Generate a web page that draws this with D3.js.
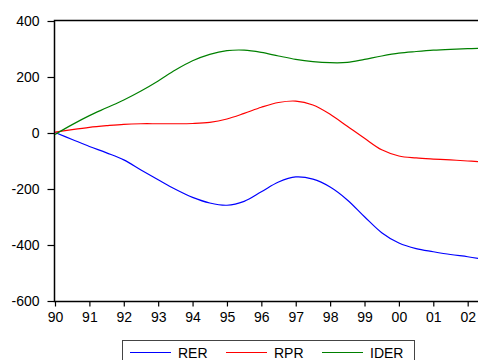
<!DOCTYPE html>
<html>
<head>
<meta charset="utf-8">
<script src="https://cdn.jsdelivr.net/npm/d3@7"></script>
<style>
  html, body { margin: 0; padding: 0; background: #fff; }
  svg { display: block; font-family: "Liberation Sans", Arial, sans-serif; }
</style>
</head>
<body>
<div id="chart"></div>
<script>
// half-year sample points, last one is where the picture is cut off
const periods = [1990, 1990.5, 1991, 1991.5, 1992, 1992.5, 1993, 1993.5, 1994, 1994.5,
  1995, 1995.5, 1996, 1996.5, 1997, 1997.5, 1998, 1998.5, 1999, 1999.5,
  2000, 2000.5, 2001, 2001.5, 2002, 2002.3];

const rer = [2, -23, -48, -71, -96, -132, -167, -201, -230, -250,
  -258, -244, -210, -175, -157, -165, -193, -239, -299, -356,
  -393, -413, -424, -434, -442, -448];
const rpr = [3, 12, 20, 26, 31, 33, 33, 33, 34, 38,
  50, 70, 92, 109, 114, 100, 67, 24, -19, -60,
  -82, -89, -93, -96, -100, -102];
const ider = [-5, 30, 62, 90, 118, 150, 186, 225, 258, 281,
  294, 296, 288, 275, 263, 255, 251, 252, 263, 275,
  285, 291, 296, 299, 301, 302];

const yTicks = [400, 200, 0, -200, -400, -600];
const xTickYears = [1990, 1991, 1992, 1993, 1994, 1995, 1996, 1997, 1998, 1999, 2000, 2001, 2002];
const xTickLabels = ["90", "91", "92", "93", "94", "95", "96", "97", "98", "99", "00", "01", "02"];

const series = [
  { name: "RER", values: rer, color: "#0000ff" },
  { name: "RPR", values: rpr, color: "#ff0000" },
  { name: "IDER", values: ider, color: "#008000" }
];

const W = 478, H = 360;
const plotLeft = 55, plotTop = 21, plotRight = 478, plotBottom = 301;

const svg = d3.select("#chart").append("svg")
  .attr("width", W).attr("height", H);

const x = d3.scaleLinear().domain([1990, 2002.3]).range([plotLeft, plotRight]);
const y = d3.scaleLinear().domain([-600, 400]).range([plotBottom, plotTop]);

// plot frame (right side is cut off in the picture)
svg.append("rect")
  .attr("x", plotLeft - 0.5).attr("y", plotTop - 0.5)
  .attr("width", W).attr("height", plotBottom - plotTop + 1)
  .attr("fill", "none").attr("stroke", "#000").attr("stroke-width", 1.5);

// Y axis
const yAxis = svg.append("g")
  .attr("transform", `translate(${plotLeft - 0.5},0)`)
  .call(d3.axisLeft(y).tickValues(yTicks).tickSize(7).tickPadding(8).tickFormat(d3.format("d")));
yAxis.select(".domain").remove();
yAxis.selectAll(".tick line").attr("stroke", "#000").attr("stroke-width", 1.2);
yAxis.selectAll("text").style("font-size", "14px").attr("fill", "#000")
  .text(d => d < 0 ? "-" + Math.abs(d) : d);

// X axis
const xAxis = svg.append("g")
  .attr("transform", `translate(0,${plotBottom + 0.5})`)
  .call(d3.axisBottom(x).tickValues(xTickYears).tickSize(5).tickPadding(6)
    .tickFormat((d, i) => xTickLabels[i]));
xAxis.select(".domain").remove();
xAxis.selectAll(".tick line").attr("stroke", "#000").attr("stroke-width", 1.2);
xAxis.selectAll("text").style("font-size", "14px").attr("fill", "#000");

// lines
const line = d3.line()
  .x((d, i) => x(periods[i]))
  .y(d => y(d))
  .curve(d3.curveCatmullRom);

svg.append("clipPath").attr("id", "plot-clip")
  .append("rect").attr("x", plotLeft).attr("y", plotTop)
  .attr("width", plotRight - plotLeft).attr("height", plotBottom - plotTop);

const plot = svg.append("g").attr("clip-path", "url(#plot-clip)");
series.forEach(s => {
  plot.append("path")
    .datum(s.values)
    .attr("fill", "none")
    .attr("stroke", s.color)
    .attr("stroke-width", 1.2)
    .attr("d", line);
});

// legend
const legend = svg.append("g");
legend.append("rect")
  .attr("x", 122.5).attr("y", 340.5)
  .attr("width", 292).attr("height", 30)
  .attr("fill", "#fff").attr("stroke", "#444").attr("stroke-width", 1);

const legendX = [130, 226, 322];
series.forEach((s, i) => {
  legend.append("line")
    .attr("x1", legendX[i]).attr("x2", legendX[i] + 41)
    .attr("y1", 352.5).attr("y2", 352.5)
    .attr("stroke", s.color).attr("stroke-width", 1.2);
  legend.append("text")
    .attr("x", legendX[i] + 48).attr("y", 358)
    .style("font-size", "14px").attr("fill", "#000")
    .text(s.name);
});
</script>
</body>
</html>
